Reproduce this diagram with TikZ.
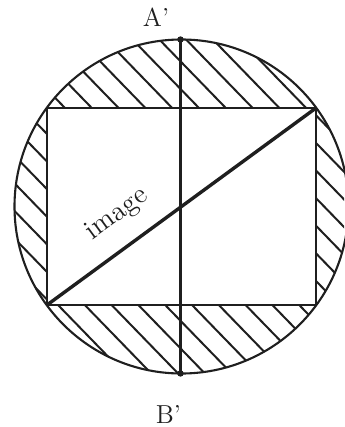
\documentclass[tikz,border=0pt]{standalone}
\definecolor{ink}{gray}{0.12}
\newcommand\hatchband[3]{%
  \begin{scope}
    \clip (O) circle[radius=\R];
    \clip (#1) rectangle (#2);
    \begin{scope}[shift={(#3)}]
      \foreach \k in {-14,...,14} {
        \draw[hatchline] (\k*26.8-260,-267.8) -- (\k*26.8+260,267.8);
      }
    \end{scope}
  \end{scope}}
\begin{document}
\begin{tikzpicture}[x=0.5pt,y=-0.5pt,
  outline/.style={draw=ink,line width=1.05pt},
  hatchline/.style={draw=ink,line width=1pt},
  diag/.style={draw=ink,line width=1.7pt},
  lbl/.style={text=ink,font=\fontsize{13}{15}\selectfont,inner sep=0pt}]
\fill[white] (0,0) rectangle (344,427);
\useasboundingbox (0,0) rectangle (344,427);
\def\R{167}
\coordinate (O) at (181.5,206.5);
\coordinate (TL) at (47,108);
\coordinate (TR) at (316,108);
\coordinate (BL) at (47,305);
\coordinate (BR) at (316,305);
\coordinate (Ap) at (180.5,39.5);
\coordinate (Bp) at (180.5,373.5);
% hatching in the four bands between circle and rectangle
\hatchband{0,0}{344,108}{65,108}
\hatchband{0,305}{344,427}{58,305}
\hatchband{0,108}{47,305}{48,135}
\hatchband{316,108}{344,305}{318,145}
% outlines
\draw[outline] (O) circle[radius=\R];
\draw[outline] (TL) rectangle (BR);
\draw[outline] (Ap) -- (Bp);
\fill[ink] (Ap) circle[radius=3.2];
\fill[ink] (Bp) circle[radius=3.2];
\draw[diag] (BL) -- (TR)
  node[lbl,pos=0.33,sloped,anchor=south,yshift=9pt,font=\fontsize{14}{16}\selectfont] (imgtxt) {image};
% labels
\node[lbl,anchor=base] (labA) at (156,27) {A'};
\node[lbl,anchor=base] (labB) at (168.5,423) {B'};
\end{tikzpicture}
\end{document}
